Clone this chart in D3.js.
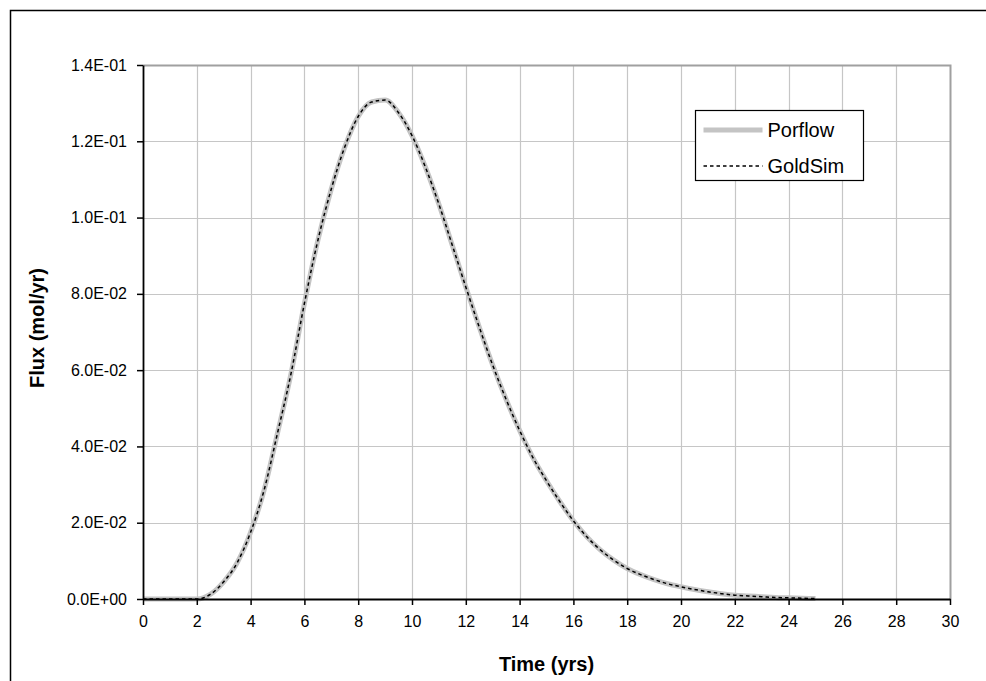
<!DOCTYPE html>
<html>
<head>
<meta charset="utf-8">
<script src="https://cdn.jsdelivr.net/npm/d3@7"></script>
<style>
  html, body { margin: 0; padding: 0; background: #fff; }
  svg { display: block; }
</style>
</head>
<body>
<svg id="chart" width="986" height="681"></svg>
<script>
// Time (yrs)
const timeYrs = [0, 0.5, 1, 1.5, 2, 2.5, 3, 3.5, 4, 4.5, 5, 5.5, 6, 6.5, 7, 7.5, 8, 8.5, 9, 9.5,
  10, 10.5, 11, 11.5, 12, 12.5, 13, 13.5, 14, 14.5, 15, 15.5, 16, 16.5, 17, 17.5, 18, 18.5, 19, 19.5,
  20, 20.5, 21, 21.5, 22, 22.5, 23, 23.5, 24, 24.5, 25];

// Flux (mol/yr), Porflow model
const porflowFlux = [0, 0, 0, 0, 0, 0.0012, 0.0045, 0.0095, 0.0175, 0.0285, 0.0435, 0.059, 0.0775, 0.094, 0.1075, 0.1185, 0.1265, 0.1303, 0.1308, 0.1275,
  0.1215, 0.1132, 0.1035, 0.0927, 0.0818, 0.0713, 0.0613, 0.0523, 0.0442, 0.0370, 0.0310, 0.0255, 0.0205, 0.0163, 0.0129, 0.0102, 0.0080, 0.0064, 0.0051, 0.0040,
  0.0032, 0.0025, 0.0019, 0.0014, 0.0010, 0.0008, 0.0006, 0.0004, 0.0003, 0.0002, 0.0001];

// Flux (mol/yr), GoldSim model
const goldsimFlux = [0, 0, 0, 0, 0, 0.0012, 0.0045, 0.0095, 0.0175, 0.0285, 0.0435, 0.059, 0.0775, 0.094, 0.1075, 0.1185, 0.1265, 0.1303, 0.1308, 0.1275,
  0.1215, 0.1132, 0.1035, 0.0927, 0.0818, 0.0713, 0.0613, 0.0523, 0.0442, 0.0370, 0.0310, 0.0255, 0.0205, 0.0163, 0.0129, 0.0102, 0.0080, 0.0064, 0.0051, 0.0040,
  0.0032, 0.0025, 0.0019, 0.0014, 0.0010, 0.0008, 0.0006, 0.0004, 0.0003, 0.0002, 0.0001];

const xTicks = [0, 2, 4, 6, 8, 10, 12, 14, 16, 18, 20, 22, 24, 26, 28, 30];
const yTicks = [0, 0.02, 0.04, 0.06, 0.08, 0.10, 0.12, 0.14];
const seriesNames = ["Porflow", "GoldSim"];

const svg = d3.select("#chart");
const font = "'Liberation Sans', Arial, sans-serif";

const plot = { left: 143, top: 65, right: 950, bottom: 599 };

const x = d3.scaleLinear().domain([0, 30]).range([plot.left, plot.right]);
const y = d3.scaleLinear().domain([0, 0.14]).range([plot.bottom, plot.top]);

// Outer chart frame
svg.append("rect")
  .attr("x", 10.5).attr("y", 10.5)
  .attr("width", 1000).attr("height", 700)
  .attr("fill", "#fff").attr("stroke", "#000").attr("stroke-width", 1.5);

// Gridlines
const grid = svg.append("g").attr("stroke", "#c6c6c6").attr("stroke-width", 1.2);
grid.selectAll("line.v").data(xTicks.slice(1, -1)).enter().append("line")
  .attr("x1", d => Math.round(x(d)) + 0.5).attr("x2", d => Math.round(x(d)) + 0.5)
  .attr("y1", plot.top).attr("y2", plot.bottom);
grid.selectAll("line.h").data(yTicks.slice(1, -1)).enter().append("line")
  .attr("x1", plot.left).attr("x2", plot.right)
  .attr("y1", d => Math.round(y(d)) + 0.5).attr("y2", d => Math.round(y(d)) + 0.5);

// Plot area frame (top and right)
svg.append("path")
  .attr("d", `M${plot.left},${plot.top + 0.5}H${plot.right + 0.5}V${plot.bottom}`)
  .attr("fill", "none").attr("stroke", "#a0a0a0").attr("stroke-width", 2);

// Series lines
const line = vals => d3.line()
  .x((d, i) => x(timeYrs[i]))
  .y(d => y(d))
  .curve(d3.curveMonotoneX)(vals);

svg.append("path")
  .attr("d", line(porflowFlux))
  .attr("fill", "none").attr("stroke", "#c4c4c4").attr("stroke-width", 5)
  .attr("stroke-linejoin", "round");

svg.append("path")
  .attr("d", line(goldsimFlux))
  .attr("fill", "none").attr("stroke", "#000").attr("stroke-width", 1.5)
  .attr("stroke-dasharray", "3.5,3");

// Axes
const xAxis = d3.axisBottom(x).tickValues(xTicks).tickSize(6).tickSizeOuter(0).tickFormat(d3.format("d"));
const yAxis = d3.axisLeft(y).tickValues(yTicks).tickSize(6).tickSizeOuter(0)
  .tickFormat(d => d === 0 ? "0.0E+00" : d3.format(".1e")(d).replace(/e-(\d)$/, "E-0$1").replace("e-", "E-"));

const gx = svg.append("g").attr("transform", `translate(0,${plot.bottom})`).call(xAxis);
const gy = svg.append("g").attr("transform", `translate(${plot.left},0)`).call(yAxis);

[gx, gy].forEach(g => {
  g.select(".domain").attr("stroke", "#000").attr("stroke-width", 1.8);
  g.selectAll(".tick line").attr("stroke", "#000").attr("stroke-width", 1.5);
  g.selectAll(".tick text").attr("fill", "#000").attr("font-family", font).attr("font-size", 16);
});
gx.selectAll(".tick text").attr("dy", "0.71em").attr("y", 17);
gy.selectAll(".tick text").attr("x", -16);

// Axis titles
svg.append("text")
  .attr("x", (plot.left + plot.right) / 2).attr("y", 671)
  .attr("text-anchor", "middle")
  .attr("font-family", font).attr("font-size", 20).attr("font-weight", "bold")
  .text("Time (yrs)");

svg.append("text")
  .attr("transform", `translate(44,${(plot.top + plot.bottom) / 2 - 4}) rotate(-90)`)
  .attr("text-anchor", "middle")
  .attr("font-family", font).attr("font-size", 20).attr("font-weight", "bold")
  .text("Flux (mol/yr)");

// Legend
const legend = svg.append("g").attr("transform", "translate(695.5,110.5)");
legend.append("rect").attr("width", 168).attr("height", 70)
  .attr("fill", "#fff").attr("stroke", "#000").attr("stroke-width", 1.2);
const legendStyles = [
  { stroke: "#c4c4c4", width: 5, dash: null },
  { stroke: "#000", width: 1.5, dash: "3.5,3" }
];
seriesNames.forEach((name, i) => {
  const cy = 19.5 + i * 36;
  legend.append("line")
    .attr("x1", 8).attr("x2", 67).attr("y1", cy).attr("y2", cy)
    .attr("stroke", legendStyles[i].stroke).attr("stroke-width", legendStyles[i].width)
    .attr("stroke-dasharray", legendStyles[i].dash);
  legend.append("text")
    .attr("x", 72).attr("y", cy).attr("dy", "0.35em")
    .attr("font-family", font).attr("font-size", 20)
    .text(name);
});
</script>
</body>
</html>
